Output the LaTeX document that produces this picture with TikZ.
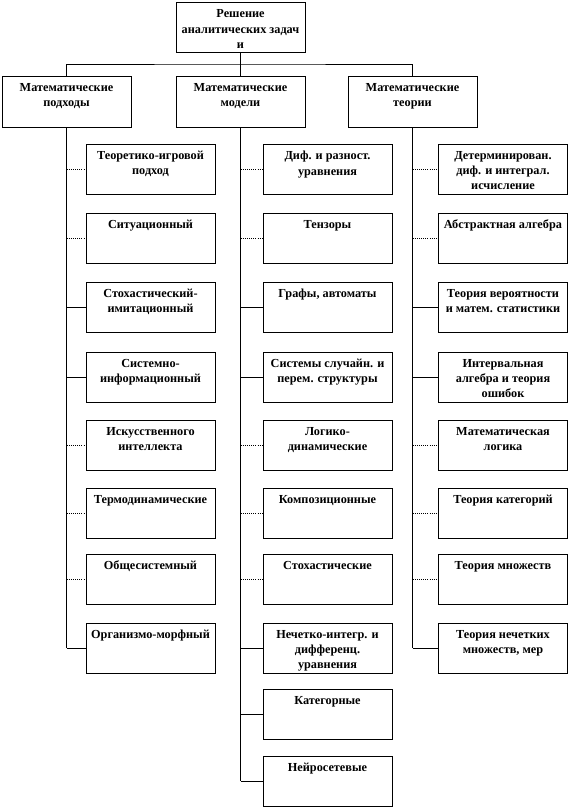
\documentclass[tikz,border=0pt]{standalone}
\usepackage{fontspec}
\setmainfont{Liberation Serif}

\begin{document}
\begin{tikzpicture}[x=0.75pt, y=-0.75pt,
  box/.style={draw=black, line width=0.6pt, rectangle, inner sep=0pt,
    minimum width=96.75pt, minimum height=37.5pt,
    label={[txt]north:{#1}}},
  txt/.style={anchor=north, align=center, inner sep=0pt, yshift=-5.5pt,
    font=\bfseries\fontsize{9.2}{11.5}\selectfont},
  ln/.style={line width=0.6pt},
  dln/.style={line width=0.6pt, densely dotted},
]
\useasboundingbox (0,0) rectangle (571,808);

%── Корень и три направления ─────────────────────────────────────────────────

\node[box={Решение\\аналитических задач\\и}] (root) at (240.5,27.5) {};

\node[box={Математические\\подходы}, minimum height=38.25pt] (hap) at (66.5,101.5)  {};
\node[box={Математические\\модели},  minimum height=38.25pt] (hmd) at (240.5,101.5) {};
\node[box={Математические\\теории},  minimum height=38.25pt] (hth) at (412.5,101.5) {};

\coordinate (bus) at (240.5,64);
\draw[ln] (root.south) -- (hmd.north);
\draw[ln] (hap.north) |- (bus) -| (hth.north);

%── Математические подходы ───────────────────────────────────────────────────

\node[box={Теоретико-игровой\\подход}]       (ap1) at (150.5,169) {};
\node[box={Ситуационный}]                    (ap2) at (150.5,238) {};
\node[box={Стохастический-\\имитационный}]   (ap3) at (150.5,307) {};
\node[box={Системно-\\информационный}]       (ap4) at (150.5,377) {};
\node[box={Искусственного\\интеллекта}]      (ap5) at (150.5,445) {};
\node[box={Термодинамические}]               (ap6) at (150.5,513) {};
\node[box={Общесистемный}]                   (ap7) at (150.5,579) {};
\node[box={Организмо-морфный}]               (ap8) at (150.5,648) {};

\draw[ln] (hap.south) -- (hap.south |- ap8.west);
\draw[dln] (hap.south |- ap1.west) -- (ap1.west);
\draw[dln] (hap.south |- ap2.west) -- (ap2.west);
\draw[ln]  (hap.south |- ap3.west) -- (ap3.west);
\draw[ln]  (hap.south |- ap4.west) -- (ap4.west);
\draw[dln] (hap.south |- ap5.west) -- (ap5.west);
\draw[dln] (hap.south |- ap6.west) -- (ap6.west);
\draw[dln] (hap.south |- ap7.west) -- (ap7.west);
\draw[ln]  (hap.south |- ap8.west) -- (ap8.west);

%── Математические модели ────────────────────────────────────────────────────

\node[box={Диф. и разност.\\уравнения}]                  (md1)  at (327.5,169) {};
\node[box={Тензоры}]                                     (md2)  at (327.5,238) {};
\node[box={Графы, автоматы}]                             (md3)  at (327.5,307) {};
\node[box={Системы случайн. и\\перем. структуры}]        (md4)  at (327.5,377) {};
\node[box={Логико-\\динамические}]                       (md5)  at (327.5,445) {};
\node[box={Композиционные}]                              (md6)  at (327.5,513) {};
\node[box={Стохастические}]                              (md7)  at (327.5,579) {};
\node[box={Нечетко-интегр. и\\дифференц.\\уравнения}]    (md8)  at (327.5,648) {};
\node[box={Категорные}]                                  (md9)  at (327.5,714) {};
\node[box={Нейросетевые}]                                (md10) at (327.5,781) {};

\draw[ln] (hmd.south) -- (hmd.south |- md10.west);
\draw[dln] (hmd.south |- md1.west) -- (md1.west);
\draw[dln] (hmd.south |- md2.west) -- (md2.west);
\draw[ln]  (hmd.south |- md3.west) -- (md3.west);
\draw[ln]  (hmd.south |- md4.west) -- (md4.west);
\draw[dln] (hmd.south |- md5.west) -- (md5.west);
\draw[dln] (hmd.south |- md6.west) -- (md6.west);
\draw[dln] (hmd.south |- md7.west) -- (md7.west);
\draw[ln]  (hmd.south |- md8.west) -- (md8.west);
\draw[ln]  (hmd.south |- md9.west) -- (md9.west);
\draw[ln]  (hmd.south |- md10.west) -- (md10.west);

%── Математические теории ────────────────────────────────────────────────────

\node[box={Детерминирован.\\диф. и интеграл.\\исчисление}]  (th1) at (503,169) {};
\node[box={Абстрактная алгебра}]                          (th2) at (503,238) {};
\node[box={Теория вероятности\\и матем. статистики}]      (th3) at (503,307) {};
\node[box={Интервальная\\алгебра и теория\\ошибок}]        (th4) at (503,377) {};
\node[box={Математическая\\логика}]                       (th5) at (503,445) {};
\node[box={Теория категорий}]                             (th6) at (503,513) {};
\node[box={Теория множеств}]                              (th7) at (503,579) {};
\node[box={Теория нечетких\\множеств, мер}]               (th8) at (503,648) {};

\draw[ln] (hth.south) -- (hth.south |- th8.west);
\draw[dln] (hth.south |- th1.west) -- (th1.west);
\draw[dln] (hth.south |- th2.west) -- (th2.west);
\draw[ln]  (hth.south |- th3.west) -- (th3.west);
\draw[ln]  (hth.south |- th4.west) -- (th4.west);
\draw[dln] (hth.south |- th5.west) -- (th5.west);
\draw[dln] (hth.south |- th6.west) -- (th6.west);
\draw[dln] (hth.south |- th7.west) -- (th7.west);
\draw[ln]  (hth.south |- th8.west) -- (th8.west);

\end{tikzpicture}
\end{document}
